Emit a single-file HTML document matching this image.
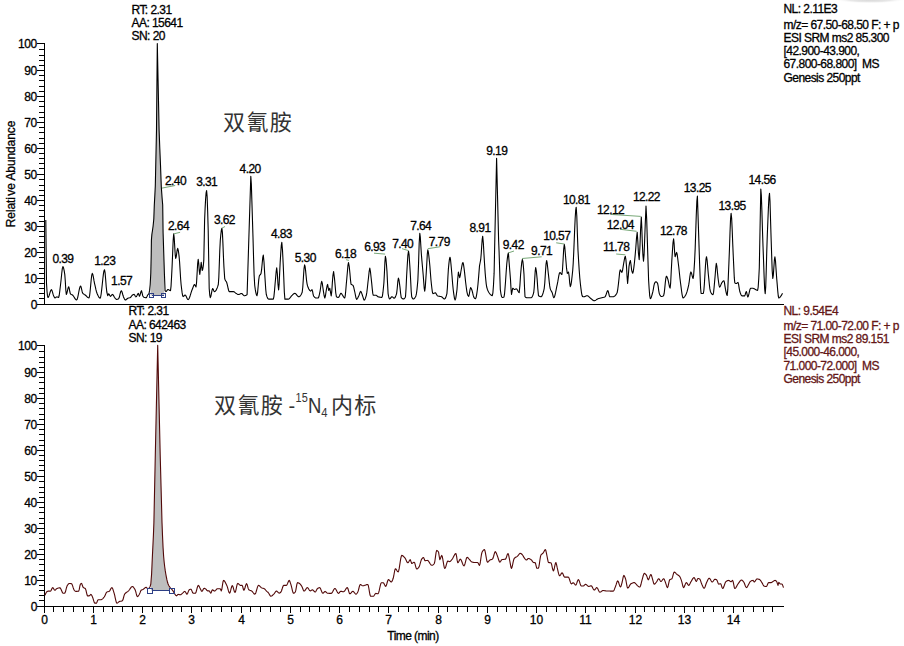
<!DOCTYPE html>
<html><head><meta charset="utf-8"><style>
html,body{margin:0;padding:0;background:#fff;width:904px;height:646px;overflow:hidden}
svg{display:block}
.ax{stroke:#000;stroke-width:1;fill:none;shape-rendering:crispEdges}
.tr{stroke:#000;stroke-width:1.1;fill:none;stroke-linejoin:round}
.tr.red{stroke:#520909}
.bm{stroke:#2d3f85;stroke-width:1;fill:none;shape-rendering:crispEdges}
.gl{stroke:#78a878;stroke-width:1}
text{font-family:"Liberation Sans",Arial,sans-serif;font-size:12px;fill:#000;white-space:pre;stroke:#000;stroke-width:0.3px}
text.red{stroke:#641616}
.cn,.lat{stroke:none}
.yl{text-anchor:end;letter-spacing:-0.3px}
.xl{text-anchor:middle}
.pl{letter-spacing:-0.6px}
.cn{font-family:"Liberation Sans","Noto Sans CJK SC",sans-serif;font-size:22px;fill:#333}
.lat{font-family:"Liberation Sans",sans-serif;fill:#333}
.info{letter-spacing:-0.55px}
text.red{fill:#641616}
</style></head><body>
<svg width="904" height="646" viewBox="0 0 904 646">
<defs><radialGradient id="sh" cx="0.5" cy="0.5" r="0.5"><stop offset="0" stop-color="#d4d4d4"/><stop offset="0.6" stop-color="#e8e8e8"/><stop offset="1" stop-color="#fff" stop-opacity="0"/></radialGradient></defs>
<ellipse cx="870" cy="-0.5" rx="36" ry="4" fill="url(#sh)"/>
<polygon points="150.6,295.5 150.6,276.833 150.8,273 151.2,255 151.4,240 151.9,234.17 152.4,231 153.1,225.97 153.8,219 154.3,205 154.8,195.94 155.3,186 156.5,130 157.3,43.5 159.1,130 159.8,148.58 160.5,165 161.3,187 162.1,198 162.7,205 163.1,233 164,261 164.2,267.2 164.2,295.5" fill="#bebebe"/>
<polygon points="151,590.5 151,581.5 151.6,574 152.4,556 152.9,545.71 153.4,535.44 153.9,522.4 155.3,455 157.7,345.2 160.2,455 162,522.4 162.53,536.03 163.07,547.6 163.6,556 164.15,561.95 164.7,566.75 165.25,570.67 165.8,574 166.38,577.14 166.95,579.93 167.53,582.26 168.1,584 168.62,585.15 169.15,586.08 169.5,586.612 169.5,590.5" fill="#bebebe"/>
<line x1="44.5" y1="43" x2="44.5" y2="304.5" class="ax"/>
<line x1="44" y1="304.5" x2="784" y2="304.5" class="ax"/>
<line x1="37" y1="304.5" x2="44.5" y2="304.5" class="ax"/>
<text x="37" y="309.2" class="yl">0</text>
<line x1="39" y1="298.5" x2="44.5" y2="298.5" class="ax"/>
<line x1="39" y1="293.5" x2="44.5" y2="293.5" class="ax"/>
<line x1="39" y1="288.5" x2="44.5" y2="288.5" class="ax"/>
<line x1="39" y1="283.5" x2="44.5" y2="283.5" class="ax"/>
<line x1="37" y1="278.5" x2="44.5" y2="278.5" class="ax"/>
<text x="37" y="283.2" class="yl">10</text>
<line x1="39" y1="273.5" x2="44.5" y2="273.5" class="ax"/>
<line x1="39" y1="268.5" x2="44.5" y2="268.5" class="ax"/>
<line x1="39" y1="262.5" x2="44.5" y2="262.5" class="ax"/>
<line x1="39" y1="257.5" x2="44.5" y2="257.5" class="ax"/>
<line x1="37" y1="252.5" x2="44.5" y2="252.5" class="ax"/>
<text x="37" y="257.2" class="yl">20</text>
<line x1="39" y1="247.5" x2="44.5" y2="247.5" class="ax"/>
<line x1="39" y1="242.5" x2="44.5" y2="242.5" class="ax"/>
<line x1="39" y1="236.5" x2="44.5" y2="236.5" class="ax"/>
<line x1="39" y1="231.5" x2="44.5" y2="231.5" class="ax"/>
<line x1="37" y1="226.5" x2="44.5" y2="226.5" class="ax"/>
<text x="37" y="231.2" class="yl">30</text>
<line x1="39" y1="221.5" x2="44.5" y2="221.5" class="ax"/>
<line x1="39" y1="216.5" x2="44.5" y2="216.5" class="ax"/>
<line x1="39" y1="210.5" x2="44.5" y2="210.5" class="ax"/>
<line x1="39" y1="205.5" x2="44.5" y2="205.5" class="ax"/>
<line x1="37" y1="200.5" x2="44.5" y2="200.5" class="ax"/>
<text x="37" y="205.2" class="yl">40</text>
<line x1="39" y1="195.5" x2="44.5" y2="195.5" class="ax"/>
<line x1="39" y1="190.5" x2="44.5" y2="190.5" class="ax"/>
<line x1="39" y1="185.5" x2="44.5" y2="185.5" class="ax"/>
<line x1="39" y1="179.5" x2="44.5" y2="179.5" class="ax"/>
<line x1="37" y1="174.5" x2="44.5" y2="174.5" class="ax"/>
<text x="37" y="179.2" class="yl">50</text>
<line x1="39" y1="168.5" x2="44.5" y2="168.5" class="ax"/>
<line x1="39" y1="163.5" x2="44.5" y2="163.5" class="ax"/>
<line x1="39" y1="158.5" x2="44.5" y2="158.5" class="ax"/>
<line x1="39" y1="153.5" x2="44.5" y2="153.5" class="ax"/>
<line x1="37" y1="148.5" x2="44.5" y2="148.5" class="ax"/>
<text x="37" y="153.2" class="yl">60</text>
<line x1="39" y1="143.5" x2="44.5" y2="143.5" class="ax"/>
<line x1="39" y1="138.5" x2="44.5" y2="138.5" class="ax"/>
<line x1="39" y1="132.5" x2="44.5" y2="132.5" class="ax"/>
<line x1="39" y1="127.5" x2="44.5" y2="127.5" class="ax"/>
<line x1="37" y1="122.5" x2="44.5" y2="122.5" class="ax"/>
<text x="37" y="127.2" class="yl">70</text>
<line x1="39" y1="117.5" x2="44.5" y2="117.5" class="ax"/>
<line x1="39" y1="112.5" x2="44.5" y2="112.5" class="ax"/>
<line x1="39" y1="106.5" x2="44.5" y2="106.5" class="ax"/>
<line x1="39" y1="101.5" x2="44.5" y2="101.5" class="ax"/>
<line x1="37" y1="96.5" x2="44.5" y2="96.5" class="ax"/>
<text x="37" y="101.2" class="yl">80</text>
<line x1="39" y1="91.5" x2="44.5" y2="91.5" class="ax"/>
<line x1="39" y1="86.5" x2="44.5" y2="86.5" class="ax"/>
<line x1="39" y1="80.5" x2="44.5" y2="80.5" class="ax"/>
<line x1="39" y1="75.5" x2="44.5" y2="75.5" class="ax"/>
<line x1="37" y1="70.5" x2="44.5" y2="70.5" class="ax"/>
<text x="37" y="75.2" class="yl">90</text>
<line x1="39" y1="65.5" x2="44.5" y2="65.5" class="ax"/>
<line x1="39" y1="60.5" x2="44.5" y2="60.5" class="ax"/>
<line x1="39" y1="55.5" x2="44.5" y2="55.5" class="ax"/>
<line x1="39" y1="49.5" x2="44.5" y2="49.5" class="ax"/>
<line x1="37" y1="43.5" x2="44.5" y2="43.5" class="ax"/>
<text x="37" y="48.2" class="yl">100</text>
<line x1="44.5" y1="345" x2="44.5" y2="606.5" class="ax"/>
<line x1="44" y1="606.5" x2="784" y2="606.5" class="ax"/>
<line x1="37" y1="606.5" x2="44.5" y2="606.5" class="ax"/>
<text x="37" y="611.2" class="yl">0</text>
<line x1="39" y1="600.5" x2="44.5" y2="600.5" class="ax"/>
<line x1="39" y1="595.5" x2="44.5" y2="595.5" class="ax"/>
<line x1="39" y1="590.5" x2="44.5" y2="590.5" class="ax"/>
<line x1="39" y1="585.5" x2="44.5" y2="585.5" class="ax"/>
<line x1="37" y1="580.5" x2="44.5" y2="580.5" class="ax"/>
<text x="37" y="585.2" class="yl">10</text>
<line x1="39" y1="575.5" x2="44.5" y2="575.5" class="ax"/>
<line x1="39" y1="570.5" x2="44.5" y2="570.5" class="ax"/>
<line x1="39" y1="564.5" x2="44.5" y2="564.5" class="ax"/>
<line x1="39" y1="559.5" x2="44.5" y2="559.5" class="ax"/>
<line x1="37" y1="554.5" x2="44.5" y2="554.5" class="ax"/>
<text x="37" y="559.2" class="yl">20</text>
<line x1="39" y1="549.5" x2="44.5" y2="549.5" class="ax"/>
<line x1="39" y1="544.5" x2="44.5" y2="544.5" class="ax"/>
<line x1="39" y1="538.5" x2="44.5" y2="538.5" class="ax"/>
<line x1="39" y1="533.5" x2="44.5" y2="533.5" class="ax"/>
<line x1="37" y1="528.5" x2="44.5" y2="528.5" class="ax"/>
<text x="37" y="533.2" class="yl">30</text>
<line x1="39" y1="523.5" x2="44.5" y2="523.5" class="ax"/>
<line x1="39" y1="518.5" x2="44.5" y2="518.5" class="ax"/>
<line x1="39" y1="512.5" x2="44.5" y2="512.5" class="ax"/>
<line x1="39" y1="507.5" x2="44.5" y2="507.5" class="ax"/>
<line x1="37" y1="502.5" x2="44.5" y2="502.5" class="ax"/>
<text x="37" y="507.2" class="yl">40</text>
<line x1="39" y1="497.5" x2="44.5" y2="497.5" class="ax"/>
<line x1="39" y1="492.5" x2="44.5" y2="492.5" class="ax"/>
<line x1="39" y1="487.5" x2="44.5" y2="487.5" class="ax"/>
<line x1="39" y1="481.5" x2="44.5" y2="481.5" class="ax"/>
<line x1="37" y1="476.5" x2="44.5" y2="476.5" class="ax"/>
<text x="37" y="481.2" class="yl">50</text>
<line x1="39" y1="470.5" x2="44.5" y2="470.5" class="ax"/>
<line x1="39" y1="465.5" x2="44.5" y2="465.5" class="ax"/>
<line x1="39" y1="460.5" x2="44.5" y2="460.5" class="ax"/>
<line x1="39" y1="455.5" x2="44.5" y2="455.5" class="ax"/>
<line x1="37" y1="450.5" x2="44.5" y2="450.5" class="ax"/>
<text x="37" y="455.2" class="yl">60</text>
<line x1="39" y1="445.5" x2="44.5" y2="445.5" class="ax"/>
<line x1="39" y1="440.5" x2="44.5" y2="440.5" class="ax"/>
<line x1="39" y1="434.5" x2="44.5" y2="434.5" class="ax"/>
<line x1="39" y1="429.5" x2="44.5" y2="429.5" class="ax"/>
<line x1="37" y1="424.5" x2="44.5" y2="424.5" class="ax"/>
<text x="37" y="429.2" class="yl">70</text>
<line x1="39" y1="419.5" x2="44.5" y2="419.5" class="ax"/>
<line x1="39" y1="414.5" x2="44.5" y2="414.5" class="ax"/>
<line x1="39" y1="408.5" x2="44.5" y2="408.5" class="ax"/>
<line x1="39" y1="403.5" x2="44.5" y2="403.5" class="ax"/>
<line x1="37" y1="398.5" x2="44.5" y2="398.5" class="ax"/>
<text x="37" y="403.2" class="yl">80</text>
<line x1="39" y1="393.5" x2="44.5" y2="393.5" class="ax"/>
<line x1="39" y1="388.5" x2="44.5" y2="388.5" class="ax"/>
<line x1="39" y1="382.5" x2="44.5" y2="382.5" class="ax"/>
<line x1="39" y1="377.5" x2="44.5" y2="377.5" class="ax"/>
<line x1="37" y1="372.5" x2="44.5" y2="372.5" class="ax"/>
<text x="37" y="377.2" class="yl">90</text>
<line x1="39" y1="367.5" x2="44.5" y2="367.5" class="ax"/>
<line x1="39" y1="362.5" x2="44.5" y2="362.5" class="ax"/>
<line x1="39" y1="357.5" x2="44.5" y2="357.5" class="ax"/>
<line x1="39" y1="351.5" x2="44.5" y2="351.5" class="ax"/>
<line x1="37" y1="345.5" x2="44.5" y2="345.5" class="ax"/>
<text x="37" y="350.2" class="yl">100</text>
<line x1="44.5" y1="606" x2="44.5" y2="612.5" class="ax"/>
<text x="44.5" y="623.5" class="xl">0</text>
<line x1="53.5" y1="606" x2="53.5" y2="611.5" class="ax"/>
<line x1="63.5" y1="606" x2="63.5" y2="611.5" class="ax"/>
<line x1="73.5" y1="606" x2="73.5" y2="611.5" class="ax"/>
<line x1="83.5" y1="606" x2="83.5" y2="611.5" class="ax"/>
<line x1="93.5" y1="606" x2="93.5" y2="612.5" class="ax"/>
<text x="93.5" y="623.5" class="xl">1</text>
<line x1="103.5" y1="606" x2="103.5" y2="611.5" class="ax"/>
<line x1="112.5" y1="606" x2="112.5" y2="611.5" class="ax"/>
<line x1="122.5" y1="606" x2="122.5" y2="611.5" class="ax"/>
<line x1="132.5" y1="606" x2="132.5" y2="611.5" class="ax"/>
<line x1="142.5" y1="606" x2="142.5" y2="612.5" class="ax"/>
<text x="142.5" y="623.5" class="xl">2</text>
<line x1="152.5" y1="606" x2="152.5" y2="611.5" class="ax"/>
<line x1="162.5" y1="606" x2="162.5" y2="611.5" class="ax"/>
<line x1="172.5" y1="606" x2="172.5" y2="611.5" class="ax"/>
<line x1="181.5" y1="606" x2="181.5" y2="611.5" class="ax"/>
<line x1="191.5" y1="606" x2="191.5" y2="612.5" class="ax"/>
<text x="191.5" y="623.5" class="xl">3</text>
<line x1="201.5" y1="606" x2="201.5" y2="611.5" class="ax"/>
<line x1="211.5" y1="606" x2="211.5" y2="611.5" class="ax"/>
<line x1="221.5" y1="606" x2="221.5" y2="611.5" class="ax"/>
<line x1="231.5" y1="606" x2="231.5" y2="611.5" class="ax"/>
<line x1="241.5" y1="606" x2="241.5" y2="612.5" class="ax"/>
<text x="241.5" y="623.5" class="xl">4</text>
<line x1="250.5" y1="606" x2="250.5" y2="611.5" class="ax"/>
<line x1="260.5" y1="606" x2="260.5" y2="611.5" class="ax"/>
<line x1="270.5" y1="606" x2="270.5" y2="611.5" class="ax"/>
<line x1="280.5" y1="606" x2="280.5" y2="611.5" class="ax"/>
<line x1="290.5" y1="606" x2="290.5" y2="612.5" class="ax"/>
<text x="290.5" y="623.5" class="xl">5</text>
<line x1="300.5" y1="606" x2="300.5" y2="611.5" class="ax"/>
<line x1="309.5" y1="606" x2="309.5" y2="611.5" class="ax"/>
<line x1="319.5" y1="606" x2="319.5" y2="611.5" class="ax"/>
<line x1="329.5" y1="606" x2="329.5" y2="611.5" class="ax"/>
<line x1="339.5" y1="606" x2="339.5" y2="612.5" class="ax"/>
<text x="339.5" y="623.5" class="xl">6</text>
<line x1="349.5" y1="606" x2="349.5" y2="611.5" class="ax"/>
<line x1="359.5" y1="606" x2="359.5" y2="611.5" class="ax"/>
<line x1="369.5" y1="606" x2="369.5" y2="611.5" class="ax"/>
<line x1="378.5" y1="606" x2="378.5" y2="611.5" class="ax"/>
<line x1="388.5" y1="606" x2="388.5" y2="612.5" class="ax"/>
<text x="388.5" y="623.5" class="xl">7</text>
<line x1="398.5" y1="606" x2="398.5" y2="611.5" class="ax"/>
<line x1="408.5" y1="606" x2="408.5" y2="611.5" class="ax"/>
<line x1="418.5" y1="606" x2="418.5" y2="611.5" class="ax"/>
<line x1="428.5" y1="606" x2="428.5" y2="611.5" class="ax"/>
<line x1="438.5" y1="606" x2="438.5" y2="612.5" class="ax"/>
<text x="438.5" y="623.5" class="xl">8</text>
<line x1="447.5" y1="606" x2="447.5" y2="611.5" class="ax"/>
<line x1="457.5" y1="606" x2="457.5" y2="611.5" class="ax"/>
<line x1="467.5" y1="606" x2="467.5" y2="611.5" class="ax"/>
<line x1="477.5" y1="606" x2="477.5" y2="611.5" class="ax"/>
<line x1="487.5" y1="606" x2="487.5" y2="612.5" class="ax"/>
<text x="487.5" y="623.5" class="xl">9</text>
<line x1="497.5" y1="606" x2="497.5" y2="611.5" class="ax"/>
<line x1="506.5" y1="606" x2="506.5" y2="611.5" class="ax"/>
<line x1="516.5" y1="606" x2="516.5" y2="611.5" class="ax"/>
<line x1="526.5" y1="606" x2="526.5" y2="611.5" class="ax"/>
<line x1="536.5" y1="606" x2="536.5" y2="612.5" class="ax"/>
<text x="536.5" y="623.5" class="xl">10</text>
<line x1="546.5" y1="606" x2="546.5" y2="611.5" class="ax"/>
<line x1="556.5" y1="606" x2="556.5" y2="611.5" class="ax"/>
<line x1="566.5" y1="606" x2="566.5" y2="611.5" class="ax"/>
<line x1="575.5" y1="606" x2="575.5" y2="611.5" class="ax"/>
<line x1="585.5" y1="606" x2="585.5" y2="612.5" class="ax"/>
<text x="585.5" y="623.5" class="xl">11</text>
<line x1="595.5" y1="606" x2="595.5" y2="611.5" class="ax"/>
<line x1="605.5" y1="606" x2="605.5" y2="611.5" class="ax"/>
<line x1="615.5" y1="606" x2="615.5" y2="611.5" class="ax"/>
<line x1="625.5" y1="606" x2="625.5" y2="611.5" class="ax"/>
<line x1="635.5" y1="606" x2="635.5" y2="612.5" class="ax"/>
<text x="635.5" y="623.5" class="xl">12</text>
<line x1="644.5" y1="606" x2="644.5" y2="611.5" class="ax"/>
<line x1="654.5" y1="606" x2="654.5" y2="611.5" class="ax"/>
<line x1="664.5" y1="606" x2="664.5" y2="611.5" class="ax"/>
<line x1="674.5" y1="606" x2="674.5" y2="611.5" class="ax"/>
<line x1="684.5" y1="606" x2="684.5" y2="612.5" class="ax"/>
<text x="684.5" y="623.5" class="xl">13</text>
<line x1="694.5" y1="606" x2="694.5" y2="611.5" class="ax"/>
<line x1="703.5" y1="606" x2="703.5" y2="611.5" class="ax"/>
<line x1="713.5" y1="606" x2="713.5" y2="611.5" class="ax"/>
<line x1="723.5" y1="606" x2="723.5" y2="611.5" class="ax"/>
<line x1="733.5" y1="606" x2="733.5" y2="612.5" class="ax"/>
<text x="733.5" y="623.5" class="xl">14</text>
<line x1="743.5" y1="606" x2="743.5" y2="611.5" class="ax"/>
<line x1="753.5" y1="606" x2="753.5" y2="611.5" class="ax"/>
<line x1="763.5" y1="606" x2="763.5" y2="611.5" class="ax"/>
<line x1="772.5" y1="606" x2="772.5" y2="611.5" class="ax"/>
<polyline points="45.8,220 46.5,283.3 47,291.21 47.5,295.93 48,297.5 48.57,296.92 49.13,295.48 49.7,293.6 50.27,291.72 50.83,290.28 51.4,289.7 51.95,290.43 52.5,292.14 53.05,294.13 53.6,295.7 54.25,297.13 54.9,297.9 55.5,297.64 56.1,297.16 56.7,296.9 57.33,297.06 57.97,297.34 58.6,297.5 59.23,295.25 59.87,290.23 60.5,285 61.1,279.74 61.7,273.68 62.3,268.68 62.9,266.6 63.53,267.76 64.17,270.69 64.8,274.6 65.3,281.18 65.8,289.99 66.3,294.4 66.9,293.21 67.5,290.6 68.1,287.99 68.7,286.8 69.27,288.48 69.83,291.73 70.4,293.8 70.93,294.22 71.45,294.47 71.97,294.69 72.5,295 73.01,295.51 73.53,296.21 74.04,297.03 74.55,297.88 75.06,298.69 75.57,299.36 76.09,299.83 76.6,300 77.1,299.4 77.6,297.81 78.1,295.57 78.6,293 79.1,290.43 79.6,288.19 80.1,286.6 80.6,286 81.12,287.01 81.65,289.28 82.17,291.72 82.7,293.2 83.2,293.72 83.7,294.09 84.2,294.39 84.7,294.67 85.2,295 85.74,295.46 86.29,295.98 86.83,296.53 87.37,297.05 87.91,297.49 88.46,297.79 89,297.9 89.55,296.09 90.1,291.55 90.65,285.65 91.2,279.75 91.75,275.21 92.3,273.4 92.85,274.51 93.4,277.19 93.95,280.45 94.5,283.3 95,285.49 95.5,287.74 96,289.89 96.5,291.76 97,293.2 97.52,294.41 98.03,295.57 98.55,296.6 99.07,297.44 99.58,298 100.1,298.2 100.65,296.98 101.2,293.75 101.75,289.18 102.3,283.95 102.85,278.72 103.4,274.15 103.95,270.92 104.5,269.7 105.08,272.6 105.65,279.28 106.22,286.75 106.8,292 107.7,295.7 108.2,294.75 108.7,293.8 109.3,294.45 109.9,295.65 110.5,296.3 111.13,295.81 111.77,294.89 112.4,294.4 112.9,294.68 113.4,295.38 113.9,296.3 114.4,297.21 114.9,297.9 115.5,298.56 116.1,299.15 116.7,299.4 117.33,299.32 117.97,299.11 118.6,298.8 119.14,297.77 119.68,295.74 120.22,293.41 120.76,291.5 121.3,290.7 121.85,291.46 122.4,293.24 122.95,295.3 123.5,296.9 124.13,298.28 124.77,299.49 125.4,300 125.9,299.85 126.4,299.46 126.9,298.98 127.4,298.52 127.9,298.2 128.4,298.04 128.9,297.92 129.4,297.82 129.9,297.69 130.4,297.5 130.93,297.03 131.45,296.28 131.97,295.51 132.5,295 133.03,294.71 133.57,294.49 134.1,294.4 134.7,295.05 135.3,296.25 135.9,296.9 136.4,296.54 136.9,295.67 137.4,294.63 137.9,293.76 138.4,293.4 138.9,294.85 139.4,296.3 139.93,295.43 140.45,293.5 140.97,291.57 141.5,290.7 142.1,292.86 142.7,295.7 143.5,297 144.06,297.25 144.62,297.45 145.18,297.59 145.74,297.67 146.3,297.7 147,296.54 147.7,294.9 148.35,294.28 149,293.5 149.6,290.41 150.2,284.5 150.8,273 151.2,255 151.4,240 151.9,234.17 152.4,231 153.1,225.97 153.8,219 154.3,205 154.8,195.94 155.3,186 156.5,130 157.3,43.5 159.1,130 159.8,148.58 160.5,165 161.3,187 162.1,198 162.7,205 163.1,233 164,261 164.4,273.4 165.1,290.7 166,291.6 166.5,291.27 167,290.55 167.5,289.83 168,289.5 168.5,289.61 169,289.89 169.5,290.21 170,290.49 170.5,290.6 171.03,286.38 171.57,276.78 172.1,266.4 172.63,253.86 173.17,240.27 173.7,233.9 174.2,237.73 174.7,246.15 175.2,254.57 175.7,258.4 176.2,256.82 176.7,253.35 177.2,249.88 177.7,248.3 178.4,250.95 179.1,256.4 179.6,262.25 180.1,270.34 180.6,278.48 181.1,284.5 181.6,288.77 182.1,292.66 182.6,295.5 183.1,296.6 183.6,296.35 184.1,295.8 184.6,295.25 185.1,295 185.6,295.34 186.1,296.19 186.6,297.3 187.1,298.41 187.6,299.26 188.1,299.6 188.61,299.29 189.12,298.45 189.64,297.21 190.15,295.7 190.66,294.04 191.17,292.37 191.69,290.81 192.2,289.5 192.8,287.96 193.4,286.33 194,285.03 194.6,284.5 195.3,285.75 196,287 196.55,282.69 197.1,273.2 197.65,263.71 198.2,259.4 198.73,263.31 199.27,270.59 199.8,274.5 200.5,268.45 201.2,262.4 201.7,266.45 202.2,270.5 202.73,269.34 203.27,265.93 203.8,260.4 204.6,220.2 205.1,208.57 205.6,199.14 206.1,192.81 206.6,190.5 207.13,196.56 207.67,211.46 208.2,230.3 209.2,288.5 209.75,295.07 210.3,297.6 210.9,296.18 211.5,293.05 212.1,289.92 212.7,288.5 213.23,289.3 213.77,290.8 214.3,291.6 214.8,291.49 215.3,291.17 215.8,290.63 216.3,289.86 216.8,288.87 217.3,287.65 217.8,286.19 218.3,284.5 218.8,277.61 219.3,264.26 219.8,249.98 220.3,240.3 220.83,234.54 221.37,230.03 221.9,228.2 222.4,232.61 222.9,243.15 223.4,255.76 223.9,266.4 224.7,278.5 225.2,280 225.7,280.86 226.2,281.54 226.7,282.5 227.22,284.28 227.74,286.65 228.26,289.02 228.78,290.86 229.3,291.6 229.81,291.6 230.33,291.6 230.84,291.6 231.35,291.6 231.86,291.6 232.38,291.6 232.89,291.6 233.4,291.6 233.9,291.71 234.4,292 234.9,292.41 235.4,292.85 235.9,293.27 236.4,293.6 236.93,293.89 237.45,294.19 237.97,294.41 238.5,294.5 239,294.43 239.5,294.24 240,294 240.5,293.76 241,293.57 241.5,293.5 242.06,293.73 242.62,294.27 243.18,294.93 243.74,295.47 244.3,295.7 244.86,295.66 245.42,295.54 245.98,295.31 246.54,294.97 247.1,294.5 248.4,252.8 250.8,176.2 251.33,183.78 251.87,200.65 252.4,218 252.97,236.54 253.55,257.23 254.12,275.11 254.7,285.2 255.27,289.39 255.85,292.72 256.43,294.91 257,295.7 257.57,292.87 258.15,286.52 258.73,279.84 259.3,276 259.87,275.08 260.43,274.51 261,273.6 261.57,269.96 262.15,263.68 262.73,257.74 263.3,255.1 264,262.05 264.7,273.6 265.23,281.7 265.77,289.78 266.3,294.5 266.88,296.39 267.45,297.84 268.03,298.77 268.6,299.1 269.12,299.1 269.64,299.1 270.17,299.1 270.69,299.1 271.21,299.1 271.73,299.1 272.26,299.1 272.78,299.1 273.3,299.1 273.88,296.85 274.45,291.38 275.03,284.56 275.6,278.3 276.15,271.77 276.7,267.8 277.33,273.53 277.97,284.17 278.6,289.9 279.13,284.38 279.67,272.65 280.2,262 280.73,253.47 281.27,245.7 281.8,242.3 282.5,250.2 283.2,264.3 283.77,277.78 284.33,292.31 284.9,299.1 285.47,299.1 286.03,299.1 286.6,299.1 287.17,299.1 287.73,299.1 288.3,299.1 288.8,298.97 289.3,298.6 289.8,298.08 290.3,297.47 290.8,296.82 291.3,296.21 291.8,295.7 292.3,295.22 292.8,294.69 293.3,294.17 293.8,293.73 294.3,293.42 294.8,293.3 295.3,293.45 295.8,293.85 296.3,294.41 296.8,295.05 297.3,295.69 297.8,296.25 298.3,296.65 298.8,296.8 299.37,296.66 299.93,296.25 300.5,295.58 301.07,294.67 301.63,293.54 302.2,292.2 302.8,287.06 303.4,277.74 304,268.8 304.6,264.8 305.1,266.49 305.6,270.66 306.1,275.9 306.6,280.84 307.1,284.1 307.62,285.99 308.15,287.56 308.68,288.79 309.2,289.7 309.9,290.65 310.6,291.1 311.3,290.4 312,289.7 312.53,291.17 313.07,294.04 313.6,296 314.1,296.66 314.6,297.21 315.1,297.63 315.6,297.9 316.1,298 316.62,298 317.15,298 317.68,298 318.2,298 318.83,296.86 319.47,294.18 320.1,291.1 320.63,287.47 321.17,283.3 321.7,281.3 322.27,283.17 322.83,287.22 323.4,291.1 324.1,295.48 324.8,298 325.4,296.08 326,292 326.6,288.3 327.1,285.79 327.6,284.4 328.15,287.4 328.7,290.4 329.25,289.35 329.8,288.3 330.5,292.15 331.2,296 331.77,291.68 332.33,282.85 332.9,275.7 333.6,271.6 334.5,278.5 335.13,285.49 335.77,292.97 336.4,296.7 336.9,297 337.4,297.22 337.9,297.35 338.4,297.4 338.92,296.96 339.44,295.92 339.96,294.68 340.48,293.64 341,293.2 341.53,293.59 342.07,294.45 342.6,295.3 343.12,296.11 343.65,296.99 344.18,297.71 344.7,298 345.23,295.87 345.75,290.7 346.27,284.31 346.8,278.5 347.37,272 347.93,265.47 348.5,262.5 349.2,266.24 349.9,273 350.45,279.55 351,284.1 351.52,284.61 352.05,284.86 352.58,285.07 353.1,285.5 353.7,287.09 354.3,289.78 354.9,292.5 355.47,295.29 356.03,298.11 356.6,299.4 357.12,299.06 357.65,298.2 358.18,297.09 358.7,296 359.2,294.75 359.7,293.22 360.2,291.94 360.7,291.4 361.27,292.1 361.83,293.67 362.4,295.3 363,297.2 363.6,299.18 364.2,300.1 364.73,299.7 365.25,298.63 365.77,297.1 366.3,295.3 366.82,292.38 367.35,287.98 367.88,283.04 368.4,278.5 369.1,271.96 369.8,268.1 370.5,271.96 371.2,278.5 371.73,283.39 372.25,288.92 372.77,293.43 373.3,295.3 373.86,295.3 374.42,295.3 374.98,295.3 375.54,295.3 376.1,295.3 376.73,295.62 377.37,296.25 378,296.7 378.56,296.87 379.11,297.02 379.67,297.14 380.23,297.25 380.79,297.33 381.34,297.38 381.9,297.4 382.4,296.09 382.9,292.69 383.4,287.97 383.9,282.7 384.4,273.53 384.9,262.04 385.4,256.4 385.93,258.85 386.47,264.74 387,271.9 387.55,283.71 388.1,293.6 388.6,296.4 389.1,298.3 389.6,299 390.18,298.64 390.75,297.85 391.32,297.06 391.9,296.7 392.47,296.93 393.05,297.45 393.62,297.97 394.2,298.2 394.8,297.85 395.4,296.87 396,295.41 396.6,293.6 397.2,288.72 397.8,281.69 398.4,278.1 398.93,279.69 399.47,283.35 400,287.4 400.6,293.22 401.2,297.4 401.77,298.11 402.35,298.61 402.93,298.9 403.5,299 404,298.86 404.5,298.44 405,297.72 405.5,296.7 406.05,288.44 406.6,276.5 407.23,265.46 407.87,255.4 408.5,251 409.07,254.64 409.63,262.92 410.2,271.9 410.7,281.18 411.2,291.25 411.7,296.7 412.23,297.93 412.77,298.72 413.3,299 413.82,298.86 414.34,298.45 414.86,297.8 415.38,296.94 415.9,295.9 416.4,293.9 416.9,290.28 417.4,285.4 417.9,279.6 418.53,264.12 419.17,243.5 419.8,233.2 420.3,237.04 420.8,245.34 421.3,253.3 421.93,260.85 422.57,267.99 423.2,275 423.7,281.66 424.2,288.23 424.7,291.2 425.23,287.77 425.77,280.04 426.3,271.9 426.8,263.25 427.3,254.13 427.8,249.9 428.33,251.78 428.87,256.15 429.4,261.1 429.9,266.41 430.4,272.87 430.9,279.25 431.4,284.3 431.9,288.48 432.4,292.07 432.9,293.6 433.5,293.48 434.1,293.2 434.7,292.93 435.3,292.8 435.88,293.24 436.45,294.24 437.03,295.29 437.6,295.9 438.14,296.08 438.69,296.2 439.23,296.29 439.77,296.36 440.31,296.44 440.86,296.55 441.4,296.7 441.92,296.99 442.43,297.45 442.95,297.98 443.47,298.48 443.98,298.85 444.5,299 445.1,298.63 445.7,297.56 446.3,295.86 446.9,293.6 447.4,287.36 447.9,277.01 448.4,268.8 448.93,263.39 449.47,259.01 450,257.2 450.5,259.43 451,264.51 451.5,270 452.07,276.57 452.63,283.78 453.2,289.5 453.83,294.34 454.47,298.33 455.1,300 455.73,298.38 456.37,294.42 457,289.5 457.7,279.43 458.4,272.1 459.05,274.9 459.7,277.7 460.3,275.33 460.9,271.5 461.4,268.73 461.9,265.79 462.4,263.45 462.9,262.5 463.4,263.9 463.9,267.16 464.4,270.9 465,276.34 465.6,282 466.23,287.05 466.87,291.59 467.5,294.4 468.1,295.72 468.7,296.3 469.33,294.04 469.97,289.86 470.6,287.6 471.1,288.11 471.6,289.3 472.1,290.7 472.63,292.75 473.17,295.21 473.7,296.9 474.3,297.84 474.9,298.53 475.5,298.8 476.13,297.35 476.77,293.83 477.4,289.5 478,283.98 478.6,277.1 479.5,265.9 480.1,262.73 480.7,259.7 481.2,254.07 481.7,246.21 482.2,239.22 482.7,236.2 483.35,243.08 484,254.8 484.6,264.6 485.2,273.4 485.7,279.03 486.2,283.83 486.7,287 487.33,289.22 487.97,290.79 488.6,292 489.2,292.97 489.8,293.77 490.4,294.4 491.03,294.99 491.67,295.49 492.3,295.7 492.9,292.79 493.5,284.92 494.1,273.4 494.8,240 496.6,158.3 498.6,240 499.1,252.3 500.3,289.5 500.93,293.79 501.57,296.53 502.2,297.5 502.8,297.43 503.4,297.23 504,296.9 504.5,294.2 505,288.4 505.5,282 506.15,272.33 506.8,263.5 507.33,258.58 507.87,254.56 508.4,252.9 509.2,263.5 509.85,271.44 510.5,279.6 511,288.69 511.5,294.4 512.1,291.3 512.7,288.2 513.33,288.54 513.97,289.16 514.6,289.5 515.2,289.34 515.8,289.06 516.4,288.9 516.96,289.28 517.52,290.2 518.08,291.3 518.64,292.22 519.2,292.6 519.9,285.34 520.6,274.5 521.2,267.88 521.8,262.03 522.4,259.5 522.93,261.78 523.47,267.39 524,274.5 524.5,287.17 525,296.7 525.52,297.17 526.05,297.48 526.58,297.65 527.1,297.7 527.6,297.7 528.1,297.7 528.6,297.7 529.1,297.7 529.6,297.7 530.1,297.7 530.6,297.7 531.1,297.7 531.62,297.47 532.14,296.8 532.66,295.75 533.18,294.37 533.7,292.7 534.2,287.79 534.7,279.24 535.2,271.11 535.7,267.5 536.4,271.37 537.1,278.6 537.8,288.69 538.5,295.7 539.02,296.08 539.54,296.36 540.06,296.55 540.58,296.66 541.1,296.7 541.62,296.42 542.13,295.61 542.65,294.35 543.17,292.72 543.68,290.78 544.2,288.6 544.8,282.73 545.4,273.23 546,264.4 546.6,260.5 547.13,262.69 547.67,267.55 548.2,272.5 548.7,276.89 549.2,281.67 549.7,285.89 550.2,288.6 550.7,289.93 551.2,290.84 551.7,291.66 552.2,292.7 552.73,294.59 553.27,296.7 553.8,297.7 554.37,297.06 554.93,295.35 555.5,292.92 556.07,290.09 556.63,287.21 557.2,284.6 557.74,281.91 558.28,278.73 558.82,275.68 559.36,273.4 559.9,272.5 560.4,272.81 560.9,273.5 561.4,274.19 561.9,274.5 562.5,269.8 563.1,259.45 563.7,249.1 564.3,244.4 564.83,247.43 565.37,254.04 565.9,260.5 566.6,268.69 567.3,273.5 567.9,272.75 568.5,272 569.1,275.79 569.7,282.81 570.3,286.6 570.9,285.15 571.5,281.4 572.1,276.23 572.7,270.5 573.2,263.5 573.7,253.1 574.2,240.93 574.7,228.62 575.2,217.81 575.7,210.12 576.2,207.2 576.8,216.01 577.4,234.42 578,250.4 578.6,260.76 579.2,270.09 579.8,277.97 580.4,284 580.92,288.37 581.45,292.36 581.98,295.29 582.5,296.5 583,296.61 583.5,296.68 584,296.7 584.5,296.63 585,296.44 585.5,296.2 586,295.96 586.5,295.77 587,295.7 587.51,295.79 588.02,296.03 588.54,296.4 589.05,296.84 589.56,297.33 590.08,297.83 590.59,298.3 591.1,298.7 591.6,299.09 592.1,299.53 592.6,299.96 593.1,300.34 593.6,300.6 594.1,300.7 594.6,300.63 595.1,300.45 595.6,300.18 596.1,299.87 596.6,299.53 597.1,299.2 597.6,298.91 598.1,298.7 598.6,298.55 599.1,298.41 599.6,298.29 600.1,298.18 600.6,298.07 601.1,297.96 601.6,297.83 602.1,297.7 602.6,297.57 603.1,297.44 603.6,297.31 604.1,297.16 604.6,296.96 605.1,296.7 605.64,295.86 606.18,294.32 606.72,292.59 607.26,291.18 607.8,290.6 608.3,291.55 608.8,293.65 609.3,295.75 609.8,296.7 610.37,296.7 610.93,296.7 611.5,296.7 612.07,296.7 612.63,296.7 613.2,296.7 613.76,296.62 614.31,296.37 614.87,295.97 615.43,295.41 615.99,294.69 616.54,293.82 617.1,292.8 617.8,289.03 618.5,283.4 619.07,278.04 619.63,272.41 620.2,269.8 620.77,270.47 621.33,271.73 621.9,272.4 622.47,270.79 623.03,267.3 623.6,263.9 624.17,260.71 624.73,257.6 625.3,256.2 625.9,259.65 626.5,266.4 627.05,276.41 627.6,283.4 628.3,275.99 629,266.4 629.7,262.36 630.4,260.5 631,264.49 631.6,269.8 632.15,272.1 632.7,273.2 633.27,271.54 633.83,267.61 634.4,263 635.1,255.89 635.8,247.7 636.5,238.14 637.2,232.4 637.8,240.94 638.4,252.8 639.2,259.6 639.9,247.6 640.6,229 641.3,217.1 641.8,227.41 642.3,242.6 642.9,254.87 643.5,261.3 644.07,254.91 644.63,240.59 645.2,225.6 646,206.1 646.7,219.37 647.4,242.6 648.6,280 649.17,289.06 649.73,295.96 650.3,298.7 650.8,298.28 651.3,297.17 651.8,295.59 652.3,293.76 652.8,291.9 653.37,289.03 653.93,285.63 654.5,283.4 655.2,282.21 655.9,281.7 656.47,281.92 657.03,282.53 657.6,283.4 658.17,286.18 658.73,290.57 659.3,293.6 659.8,294.72 660.3,295.64 660.8,296.27 661.3,296.5 661.88,296.44 662.45,296.29 663.02,296.03 663.6,295.7 664.16,293.44 664.72,288.58 665.28,282.89 665.84,278.17 666.4,276.2 666.9,276.73 667.4,277.97 667.9,279.4 668.45,281.6 669,284.5 669.55,287.02 670.1,288.1 670.67,282.82 671.23,271.52 671.8,261 672.4,251.57 673,242.78 673.6,238.9 674.1,243.51 674.6,252.09 675.1,256.7 675.6,255.59 676.1,253.51 676.6,252.4 677.17,254.27 677.73,258.55 678.3,263.2 678.85,267.79 679.4,273.02 679.95,278.22 680.5,282.7 681.02,286.64 681.54,290.7 682.06,294.32 682.58,296.91 683.1,297.9 683.66,297.71 684.22,297.21 684.78,296.47 685.34,295.57 685.9,294.6 686.46,293.36 687.02,291.66 687.58,289.62 688.14,287.33 688.7,284.9 689.25,281.5 689.8,277.19 690.35,273.48 690.9,271.9 691.45,272.92 692,275.15 692.55,277.38 693.1,278.4 693.6,275.55 694.1,268.84 694.6,261 695.16,248.88 695.72,232.09 696.28,214.86 696.84,201.42 697.4,196 699.6,263.2 700.1,276.39 700.6,288.31 701.1,293.5 701.65,293.5 702.2,293.5 702.75,293.5 703.3,293.5 703.83,290.77 704.37,283.96 704.9,275.1 705.43,266.24 705.97,259.43 706.5,256.7 707.1,260 707.7,267.14 708.3,274 708.82,279.13 709.35,284.45 709.88,288.89 710.4,291.4 710.92,292.5 711.44,293.41 711.96,294.1 712.48,294.54 713,294.7 713.55,292.63 714.1,287.55 714.65,281.12 715.2,275 715.75,267.8 716.3,263.3 716.9,266.33 717.5,272.74 718.1,278.5 718.6,282.28 719.1,285.7 719.6,287.2 720.15,286.65 720.7,285.37 721.25,283.9 721.8,282.8 722.32,282.08 722.85,281.4 723.38,280.9 723.9,280.7 724.43,282.45 724.97,286.13 725.5,289.4 726.07,292.04 726.63,294.38 727.2,295.4 727.77,289.66 728.33,276.79 728.9,263.3 729.45,249.15 730,232.7 730.55,219.08 731.1,213.4 731.65,218.29 732.2,230.05 732.75,244.33 733.3,256.8 733.8,267.53 734.3,277.91 734.8,282.8 735.33,283.19 735.87,283.42 736.4,283.5 736.93,283.21 737.47,282.69 738,282.4 738.6,284.37 739.2,288.37 739.8,291.5 740.35,293.09 740.9,294.5 741.45,295.51 742,295.9 742.52,295.9 743.04,295.9 743.56,295.9 744.08,295.9 744.6,295.9 745.17,294.76 745.73,292.64 746.3,291.5 746.8,292.93 747.3,295.57 747.8,297 748.36,296.1 748.92,293.94 749.48,291.36 750.04,289.2 750.6,288.3 751.2,288.3 751.8,288.3 752.4,288.3 753,288.3 753.6,288.42 754.2,288.71 754.8,289.07 755.4,289.4 755.95,289.7 756.5,290.03 757.05,290.29 757.6,290.4 758.17,287.23 758.73,279.01 759.3,267.7 760.8,189.1 761.35,195.56 761.9,211.06 762.45,229.81 763,246 763.55,260.75 764.1,276.34 764.65,288.68 765.2,293.7 765.73,286.77 766.25,270.33 766.77,250.93 767.3,235.1 767.85,221.59 768.4,208.03 768.95,197.58 769.5,193.4 770,201.34 770.5,218.54 771,235.1 771.6,253.25 772.2,270.7 772.8,278.5 773.32,275.11 773.85,267.65 774.38,260.19 774.9,256.8 775.5,261.02 776.1,270.07 776.7,278.5 777.23,284.66 777.75,291.01 778.27,295.99 778.8,298 779.35,297.8 779.9,297.29 780.45,296.62 781,295.9 781.5,295.14 782,294.22 782.5,293.3" class="tr"/>
<polyline points="45,595.3 45.53,594.06 46.07,592.81 46.6,592 47.17,591.55 47.73,591.23 48.3,591.1 48.85,591.1 49.4,591.1 49.95,591.1 50.5,591.1 51.05,590.55 51.6,589.35 52.15,588.15 52.7,587.6 53.25,588.02 53.8,588.95 54.35,589.88 54.9,590.3 55.47,589.94 56.03,589.23 56.6,588.7 57.15,588.46 57.7,588.25 58.25,588.06 58.8,587.92 59.35,587.83 59.9,587.8 60.45,588.21 61,589.23 61.55,590.55 62.1,591.87 62.65,592.89 63.2,593.3 63.77,593.25 64.33,593.11 64.9,592.9 65.45,591.84 66,589.73 66.55,587.45 67.1,585.9 67.65,585.02 68.2,584.25 68.75,583.71 69.3,583.5 69.85,583.51 70.4,583.55 70.95,583.62 71.5,583.7 72.06,584.36 72.62,585.83 73.18,587.63 73.74,589.28 74.3,590.3 74.87,590.83 75.43,591.24 76,591.4 76.54,591.39 77.08,591.35 77.62,591.3 78.16,591.21 78.7,591.1 79.27,589.4 79.83,586.26 80.4,584.2 80.95,583.64 81.5,583.4 82.03,584.29 82.57,586.05 83.1,587.3 83.67,587.73 84.25,587.99 84.83,588.26 85.4,588.7 85.95,590.14 86.5,592.58 87.05,594.88 87.6,595.9 88.13,595.9 88.67,595.9 89.2,595.9 89.77,595.51 90.33,594.79 90.9,594.4 91.43,594.84 91.97,595.86 92.5,597 93.08,598.6 93.65,600.62 94.22,602.36 94.8,603.1 95.33,603.1 95.87,603.1 96.4,603.1 96.97,602.22 97.53,600.58 98.1,599.7 98.64,599.7 99.18,599.7 99.72,599.7 100.26,599.7 100.8,599.7 101.37,599.59 101.93,599.28 102.5,598.83 103.07,598.27 103.63,597.64 104.2,597 104.74,596.13 105.28,594.92 105.82,593.65 106.36,592.58 106.9,592 107.45,591.81 108,591.69 108.55,591.58 109.1,591.4 109.66,590.85 110.22,589.88 110.78,588.82 111.34,587.96 111.9,587.6 112.45,588.16 113,589.55 113.55,591.34 114.1,593.1 114.66,595.19 115.22,597.8 115.78,600.37 116.34,602.32 116.9,603.1 117.44,602.95 117.98,602.58 118.52,602.12 119.06,601.69 119.6,601.4 120.16,601.26 120.72,601.17 121.28,601.09 121.84,600.98 122.4,600.8 122.95,599.78 123.5,597.77 124.05,595.62 124.6,594.2 125.16,593.51 125.71,592.97 126.27,592.54 126.83,592.16 127.39,591.79 127.94,591.38 128.5,590.9 129.06,590.26 129.61,589.48 130.17,588.64 130.73,587.84 131.29,587.15 131.84,586.68 132.4,586.5 132.94,586.69 133.48,587.21 134.02,587.96 134.56,588.85 135.1,589.8 135.68,591.43 136.25,593.7 136.82,595.73 137.4,596.6 137.9,596.37 138.4,595.8 138.9,595.02 139.4,594.2 139.97,592.89 140.53,591.32 141.1,590.3 141.65,589.93 142.2,589.68 142.75,589.46 143.3,589.2 143.86,588.8 144.42,588.3 144.98,587.81 145.54,587.45 146.1,587.3 146.63,587.66 147.17,588.34 147.7,588.7 148.3,588.55 148.9,588.16 149.5,587.6 150.15,586.41 150.8,584 151.6,574 152.4,556 152.9,545.71 153.4,535.44 153.9,522.4 155.3,455 157.7,345.2 160.2,455 162,522.4 162.53,536.03 163.07,547.6 163.6,556 164.15,561.95 164.7,566.75 165.25,570.67 165.8,574 166.38,577.14 166.95,579.93 167.53,582.26 168.1,584 168.62,585.15 169.15,586.08 169.67,586.87 170.2,587.6 170.8,588.33 171.4,588.95 172,589.57 172.6,590.3 173.1,591.09 173.6,592 174.1,592.91 174.6,593.7 175.23,594.66 175.87,595.52 176.5,595.9 177.03,595.51 177.57,594.79 178.1,594.4 178.68,594.46 179.25,594.6 179.82,594.74 180.4,594.8 180.95,594.61 181.5,594.16 182.05,593.6 182.6,593.1 183.15,592.6 183.7,592.04 184.25,591.59 184.8,591.4 185.35,591.84 185.9,592.8 186.45,593.76 187,594.2 187.55,593.57 188.1,592.16 188.65,590.67 189.2,589.8 189.77,589.5 190.33,589.28 190.9,589.2 191.45,589.79 192,591.1 192.55,592.44 193.1,593.1 193.65,593.18 194.2,593.25 194.75,593.29 195.3,593.3 195.8,592.71 196.3,591.25 196.8,589.35 197.3,587.45 197.8,585.99 198.3,585.4 198.8,585.76 199.3,586.63 199.8,587.71 200.3,588.7 200.83,589.8 201.37,590.9 201.9,591.4 202.45,590.92 203,589.85 203.55,588.78 204.1,588.3 204.67,588.41 205.23,588.67 205.8,589 206.37,589.64 206.93,590.48 207.5,590.9 208.03,590.9 208.57,590.9 209.1,590.9 209.67,591.47 210.23,592.53 210.8,593.1 211.33,592.24 211.87,590.66 212.4,589.8 212.95,590 213.5,590.45 214.05,590.9 214.6,591.1 215.16,590.85 215.72,590.26 216.28,589.54 216.84,588.95 217.4,588.7 217.96,588.7 218.52,588.7 219.08,588.7 219.64,588.7 220.2,588.7 220.75,589.8 221.3,590.9 221.85,589.26 222.4,585.65 222.95,582.04 223.5,580.4 224.05,580.62 224.6,581.21 225.15,582.09 225.7,583.14 226.25,584.28 226.8,585.4 227.36,586.91 227.92,588.9 228.48,590.92 229.04,592.48 229.6,593.1 230.14,592.32 230.68,590.46 231.22,588.24 231.76,586.38 232.3,585.6 232.84,586.32 233.38,588.03 233.92,590.07 234.46,591.78 235,592.5 235.54,591.55 236.08,589.3 236.62,586.6 237.16,584.35 237.7,583.4 238.26,583.61 238.82,584.1 239.38,584.7 239.94,585.19 240.5,585.4 241.07,585.4 241.63,585.4 242.2,585.4 242.73,586.67 243.27,589.03 243.8,590.3 244.36,589.61 244.92,587.98 245.48,586.02 246.04,584.39 246.6,583.7 247.15,584.58 247.7,586.55 248.25,588.63 248.8,589.8 249.36,590.12 249.92,590.32 250.48,590.48 251.04,590.65 251.6,590.9 252.15,591.36 252.7,592.03 253.25,592.78 253.8,593.48 254.35,594 254.9,594.2 255.41,593.71 255.93,592.46 256.44,590.74 256.96,588.86 257.47,587.14 257.99,585.89 258.5,585.4 259,585.55 259.5,585.92 260,586.43 260.5,586.97 261,587.46 261.5,587.8 262.06,588.01 262.62,588.16 263.18,588.3 263.74,588.47 264.3,588.7 264.85,589.14 265.4,589.78 265.95,590.49 266.5,591.1 267.07,591.57 267.63,592 268.2,592.5 268.74,593.23 269.28,594.19 269.82,595.16 270.36,595.9 270.9,596.2 271.46,596.07 272.02,595.73 272.58,595.25 273.14,594.72 273.7,594.2 274.26,593.57 274.82,592.76 275.38,591.96 275.94,591.34 276.5,591.1 277.04,591.31 277.58,591.8 278.12,592.4 278.66,592.89 279.2,593.1 279.77,592.94 280.33,592.53 280.9,592 281.46,590.97 282.02,589.29 282.58,587.46 283.14,586 283.7,585.4 284.24,585.4 284.78,585.4 285.32,585.4 285.86,585.4 286.4,585.4 286.96,584.88 287.52,583.64 288.08,582.16 288.64,580.92 289.2,580.4 289.73,581.06 290.27,582.57 290.8,584.2 291.36,586.12 291.92,588.49 292.48,590.82 293.04,592.6 293.6,593.3 294.17,593.12 294.73,592.65 295.3,592 295.85,590.14 296.4,586.95 296.95,583.94 297.5,582.6 298.05,582.7 298.6,582.95 299.15,583.31 299.7,583.7 300.25,584.2 300.8,584.86 301.35,585.65 301.9,586.5 302.45,587.71 303,589.24 303.55,590.54 304.1,591.1 304.65,590.84 305.2,590.19 305.75,589.35 306.3,588.51 306.85,587.86 307.4,587.6 307.96,587.94 308.52,588.76 309.08,589.74 309.64,590.56 310.2,590.9 310.75,590.73 311.3,590.35 311.85,589.97 312.4,589.8 312.96,590.03 313.52,590.57 314.08,591.23 314.64,591.77 315.2,592 315.75,591.56 316.3,590.56 316.85,589.45 317.4,588.7 317.95,588.3 318.5,587.94 319.05,587.69 319.6,587.6 320.15,588.02 320.7,589.08 321.25,590.45 321.8,591.82 322.35,592.88 322.9,593.3 323.45,593 324,592.35 324.55,591.7 325.1,591.4 325.7,591.67 326.3,592.27 326.9,592.88 327.5,593.2 328.03,593.25 328.56,593.3 329.09,593.33 329.61,593.36 330.14,593.38 330.67,593.4 331.2,593.4 331.73,593.13 332.26,592.43 332.79,591.47 333.31,590.43 333.84,589.47 334.37,588.77 334.9,588.5 335.43,588.77 335.96,589.47 336.49,590.43 337.01,591.47 337.54,592.43 338.07,593.13 338.6,593.4 339.23,592.86 339.87,591.84 340.5,591.3 341.02,591.33 341.53,591.4 342.05,591.5 342.57,591.6 343.08,591.67 343.6,591.7 344.13,591.47 344.66,590.89 345.19,590.09 345.71,589.21 346.24,588.41 346.77,587.83 347.3,587.6 347.8,588.24 348.3,589.78 348.8,591.62 349.3,593.16 349.8,593.8 350.32,593.61 350.83,593.15 351.35,592.55 351.87,591.95 352.38,591.49 352.9,591.3 353.42,591.51 353.93,592.05 354.45,592.75 354.97,593.45 355.48,593.99 356,594.2 356.6,593.86 357.2,593.02 357.8,592 358.3,590.68 358.8,588.75 359.3,586.73 359.8,585.14 360.3,584.5 360.8,584.64 361.3,584.96 361.8,585.34 362.3,585.66 362.8,585.8 363.3,585.76 363.8,585.66 364.3,585.52 364.8,585.34 365.3,585.15 365.8,584.96 366.3,584.78 366.8,584.64 367.3,584.54 367.8,584.5 368.36,585.73 368.92,588.65 369.48,592.15 370.04,595.07 370.6,596.3 371.14,596.3 371.68,596.3 372.22,596.3 372.76,596.3 373.3,596.3 373.8,596 374.3,595.28 374.8,594.42 375.3,593.7 375.8,593.4 376.35,593.46 376.9,593.6 377.45,593.74 378,593.8 378.57,592.98 379.13,590.92 379.7,588.25 380.27,585.58 380.83,583.52 381.4,582.7 382,582.7 382.6,582.7 383.2,582.7 383.7,583.08 384.2,584 384.7,585.1 385.2,586.02 385.7,586.4 386.24,585.69 386.78,584.01 387.32,581.99 387.86,580.31 388.4,579.6 388.98,579.85 389.56,580.44 390.14,581.16 390.72,581.75 391.3,582 391.93,581.42 392.57,580.01 393.2,578.3 393.75,575.97 394.3,572.77 394.85,569.92 395.4,568.7 395.94,569.03 396.48,569.83 397.02,570.77 397.56,571.57 398.1,571.9 398.63,570.99 399.16,568.63 399.69,565.41 400.21,561.89 400.74,558.67 401.27,556.31 401.8,555.4 402.32,555.51 402.83,555.8 403.35,556.23 403.87,556.75 404.38,557.32 404.9,557.9 405.48,558.82 406.06,560.08 406.64,561.38 407.22,562.39 407.8,562.8 408.3,562.48 408.8,561.71 409.3,560.79 409.8,560.02 410.3,559.7 411,561.6 411.7,563.5 412.2,563.36 412.7,563.04 413.2,562.66 413.7,562.34 414.2,562.2 414.7,562.91 415.2,564.59 415.7,566.61 416.2,568.29 416.7,569 417.25,568.85 417.8,568.44 418.35,567.87 418.9,567.2 419.46,566.03 420.02,564.2 420.58,562.14 421.14,560.3 421.7,559.1 422.3,558.34 422.9,557.74 423.5,557.5 424,558.33 424.5,559.87 425,560.7 425.6,560.65 426.2,560.55 426.8,560.45 427.4,560.4 427.95,560.61 428.5,561.17 429.05,561.95 429.6,562.85 430.15,563.75 430.7,564.53 431.25,565.09 431.8,565.3 432.3,565.22 432.8,564.97 433.3,564.59 433.8,564.1 434.3,563.5 434.9,561.02 435.5,556.57 436.1,552.3 436.7,550.4 437.33,550.64 437.97,551.3 438.6,552.3 439.2,556.27 439.8,559.7 440.43,558.59 441.07,556.51 441.7,555.4 442.22,556.36 442.73,558.77 443.25,561.9 443.77,565.03 444.28,567.44 444.8,568.4 445.32,567.85 445.83,566.48 446.35,564.7 446.87,562.92 447.38,561.55 447.9,561 448.5,561.16 449.1,561.44 449.7,561.6 450.2,561.44 450.7,561.01 451.2,560.41 451.7,559.74 452.2,559.1 452.73,558.33 453.26,557.35 453.79,556.28 454.31,555.24 454.84,554.35 455.37,553.73 455.9,553.5 456.53,555.91 457.17,560.39 457.8,562.8 458.3,562.42 458.8,561.5 459.3,560.4 459.8,559.48 460.3,559.1 460.83,559.48 461.36,560.45 461.89,561.78 462.41,563.22 462.94,564.55 463.47,565.52 464,565.9 464.52,565.26 465.03,563.67 465.55,561.6 466.07,559.53 466.58,557.94 467.1,557.3 467.6,557.47 468.1,557.91 468.6,558.51 469.1,559.14 469.6,559.7 470.2,560.35 470.8,561.05 471.4,561.65 472,562 472.52,562.14 473.03,562.26 473.55,562.36 474.07,562.44 474.58,562.48 475.1,562.5 475.6,562.5 476.1,562.5 476.6,562.5 477.1,562.5 477.6,562.5 478.23,563.23 478.87,564.57 479.5,565.3 480,564.1 480.5,561.17 481,557.54 481.5,554.24 482,552.3 482.6,551.26 483.2,550.4 483.8,549.81 484.4,549.6 484.92,550.53 485.43,552.87 485.95,555.9 486.47,558.93 486.98,561.27 487.5,562.2 488,562.01 488.5,561.55 489,560.96 489.5,560.39 490,560 490.5,559.79 491,559.65 491.5,559.52 492,559.35 492.5,559.1 493.06,558.11 493.62,556.24 494.18,554.14 494.74,552.41 495.3,551.7 495.82,552.15 496.35,553.26 496.88,554.67 497.4,556 497.9,557.36 498.4,558.99 498.9,560.55 499.4,561.73 499.9,562.2 500.53,561.6 501.17,560.44 501.8,559.7 502.33,559.57 502.86,559.48 503.39,559.43 503.91,559.38 504.44,559.32 504.97,559.24 505.5,559.1 506,558.42 506.5,557.01 507,555.39 507.5,554.06 508,553.5 508.6,554.86 509.2,557.89 509.8,561 510.33,563.96 510.87,567 511.4,568.4 511.96,567.48 512.52,565.24 513.08,562.48 513.64,559.97 514.2,558.5 514.7,557.97 515.2,557.56 515.7,557.24 516.2,556.96 516.7,556.69 517.2,556.38 517.7,556 518.2,555.44 518.7,554.74 519.2,554.04 519.7,553.51 520.2,553.3 520.75,553.43 521.3,553.78 521.85,554.27 522.4,554.8 523.03,555.7 523.67,556.88 524.3,557.9 524.82,558.6 525.35,559.28 525.88,559.79 526.4,560 526.9,559.77 527.4,559.25 527.9,558.73 528.4,558.5 528.94,558.57 529.48,558.76 530.02,559.03 530.56,559.35 531.1,559.7 531.6,560.17 532.1,560.85 532.6,561.57 533.1,562.17 533.6,562.5 534.2,562.61 534.8,562.67 535.4,562.8 536.05,565.55 536.7,568.2 537.23,568.2 537.77,568.2 538.3,568.2 538.84,566.92 539.38,563.82 539.92,560.03 540.46,556.65 541,554.8 541.63,554.19 542.27,553.79 542.9,553.3 543.4,552.59 543.9,551.63 544.4,550.66 544.9,549.9 545.4,549.6 545.93,550.77 546.47,553.35 547,556 547.5,558.58 548,561.22 548.5,562.5 549.1,562.61 549.7,562.66 550.3,562.7 550.9,562.8 551.4,563.72 551.9,565.74 552.4,568.11 552.9,570.08 553.4,570.9 553.9,570.03 554.4,567.94 554.9,565.46 555.4,563.37 555.9,562.5 556.5,564.3 557.1,567.2 557.6,569.28 558.1,571.56 558.6,573.66 559.1,575.2 559.6,575.8 560.1,575.49 560.6,574.74 561.1,573.86 561.6,573.11 562.1,572.8 562.6,573.25 563.1,574.31 563.6,575.59 564.1,576.65 564.6,577.1 565.13,577.1 565.66,577.1 566.19,577.1 566.71,577.1 567.24,577.1 567.77,577.1 568.3,577.1 568.82,577.6 569.33,578.86 569.85,580.5 570.37,582.14 570.88,583.4 571.4,583.9 572,583.59 572.6,583.01 573.2,582.7 573.7,582.95 574.2,583.54 574.7,584.26 575.2,584.85 575.7,585.1 576.24,584.53 576.78,583.16 577.32,581.54 577.86,580.17 578.4,579.6 578.98,580.27 579.56,581.85 580.14,583.75 580.72,585.33 581.3,586 581.93,586 582.57,586 583.2,586 583.8,585.73 584.4,585.15 585,584.57 585.6,584.3 586.12,584.46 586.63,584.84 587.15,585.35 587.67,585.86 588.18,586.24 588.7,586.4 589.2,586.34 589.7,586.19 590.2,586.01 590.7,585.86 591.2,585.8 591.72,586.12 592.23,586.91 592.75,587.95 593.27,588.99 593.78,589.78 594.3,590.1 594.8,589.84 595.3,589.22 595.8,588.48 596.3,587.86 596.8,587.6 597.32,587.94 597.83,588.79 598.35,589.9 598.87,591.01 599.38,591.86 599.9,592.2 600.42,592.07 600.93,591.76 601.45,591.35 601.97,590.94 602.48,590.63 603,590.5 603.53,590.53 604.06,590.59 604.59,590.69 605.11,590.79 605.64,590.88 606.17,590.96 606.7,591 607.21,591.01 607.72,591.03 608.22,591.04 608.73,591.05 609.24,591.06 609.75,591.07 610.25,591.08 610.76,591.08 611.27,591.09 611.78,591.09 612.28,591.1 612.79,591.1 613.3,591.1 613.85,590.62 614.4,589.43 614.95,587.93 615.5,586.5 616.05,584.91 616.6,583.07 617.15,581.54 617.7,580.9 618.26,581.53 618.82,583.05 619.38,584.85 619.94,586.37 620.5,587 621.07,586.14 621.63,584.16 622.2,582 622.73,579.47 623.27,576.7 623.8,575.4 624.37,575.92 624.93,577.18 625.5,578.7 626.05,580.98 626.6,584.12 627.15,586.9 627.7,588.1 628.25,587.81 628.8,587.09 629.35,586.12 629.9,585.1 630.45,584.23 631,583.7 631.55,583.41 632.1,583.15 632.65,582.93 633.2,582.75 633.75,582.64 634.3,582.6 634.87,582.79 635.43,583.29 636,583.98 636.57,584.72 637.13,585.4 637.7,585.9 638.25,586.27 638.8,586.63 639.35,586.89 639.9,587 640.45,586.19 641,584.25 641.55,581.88 642.1,579.8 642.65,577.85 643.2,575.75 643.75,574.08 644.3,573.4 644.85,573.57 645.4,574.02 645.95,574.66 646.5,575.4 647.07,576.89 647.63,578.83 648.2,579.8 648.74,579.25 649.28,577.93 649.82,576.37 650.36,575.05 650.9,574.5 651.47,575.37 652.03,577.32 652.6,579.3 653.13,581.27 653.67,583.28 654.2,584.2 654.78,583.98 655.35,583.44 655.92,582.72 656.5,582 657.05,581.12 657.6,580.03 658.15,579.09 658.7,578.7 659.25,579.14 659.8,580.1 660.35,581.06 660.9,581.5 661.46,581.21 662.02,580.51 662.58,579.69 663.14,578.99 663.7,578.7 664.23,579.29 664.77,580.61 665.3,582 665.85,583.58 666.4,585.42 666.95,586.96 667.5,587.6 668.05,586.47 668.6,583.94 669.15,581.29 669.7,579.8 670.25,579.44 670.8,579.24 671.35,579.04 671.9,578.7 672.48,577.39 673.05,575.16 673.62,573.04 674.2,572.1 674.74,572.26 675.28,572.67 675.82,573.21 676.36,573.79 676.9,574.3 677.46,574.71 678.02,575.07 678.58,575.45 679.14,575.91 679.7,576.5 680.27,577.48 680.83,578.87 681.4,580.4 681.95,582.35 682.5,584.74 683.05,586.75 683.6,587.6 684.14,587.08 684.68,585.84 685.22,584.36 685.76,583.12 686.3,582.6 686.8,582.89 687.3,583.59 687.8,584.41 688.3,585.11 688.8,585.4 689.3,585.01 689.8,584.08 690.3,582.96 690.8,582 691.35,581.1 691.9,580.12 692.45,579.18 693,578.37 693.55,577.81 694.1,577.6 694.65,578.21 695.2,579.55 695.75,580.89 696.3,581.5 696.83,580.72 697.37,579.28 697.9,578.5 698.47,578.55 699.03,578.69 699.6,578.9 700.15,579.64 700.7,581.1 701.25,582.78 701.8,584.2 702.38,585.5 702.95,586.84 703.52,587.88 704.1,588.3 704.6,587.85 705.1,586.72 705.6,585.24 706.1,583.72 706.6,582.5 707.12,581.41 707.64,580.26 708.16,579.23 708.68,578.49 709.2,578.2 709.7,578.48 710.2,579.19 710.7,580.1 711.2,581.01 711.7,581.72 712.2,582 712.74,581.72 713.28,581.05 713.82,580.25 714.36,579.58 714.9,579.3 715.47,579.37 716.03,579.55 716.6,579.8 717.15,580.64 717.7,582.14 718.25,583.56 718.8,584.2 719.37,584.07 719.93,583.83 720.5,583.7 721.05,584.45 721.6,586.1 722.15,587.75 722.7,588.5 723.25,588.03 723.8,586.84 724.35,585.27 724.9,583.63 725.45,582.27 726,581.5 726.56,581.15 727.12,580.85 727.68,580.61 728.24,580.46 728.8,580.4 729.35,580.62 729.9,581.1 730.45,581.58 731,581.8 731.53,581.44 732.07,580.76 732.6,580.4 733.15,581.67 733.7,584.45 734.25,587.23 734.8,588.5 735.37,588.24 735.93,587.57 736.5,586.63 737.07,585.57 737.63,584.55 738.2,583.7 738.75,582.95 739.3,582.13 739.85,581.33 740.4,580.65 740.95,580.18 741.5,580 742.05,580.19 742.6,580.66 743.15,581.31 743.7,582 744.26,583.02 744.82,584.47 745.38,585.96 745.94,587.13 746.5,587.6 747.05,587.24 747.6,586.34 748.15,585.23 748.7,584.2 749.23,583.2 749.77,582.17 750.3,581.5 750.86,581.14 751.42,580.84 751.98,580.61 752.54,580.45 753.1,580.4 753.65,581.2 754.2,582 754.76,581.68 755.32,580.91 755.88,579.99 756.44,579.22 757,578.9 757.54,578.93 758.08,579.03 758.62,579.18 759.16,579.37 759.7,579.6 760.25,580.06 760.8,580.82 761.35,581.73 761.9,582.6 762.48,583.61 763.05,584.75 763.62,585.71 764.2,586.2 764.75,586.32 765.3,586.42 765.85,586.48 766.4,586.5 766.95,585.89 767.5,584.55 768.05,583.21 768.6,582.6 769.14,582.6 769.68,582.6 770.22,582.6 770.76,582.6 771.3,582.6 771.87,582.39 772.43,581.93 773,581.5 773.55,581.15 774.1,580.79 774.65,580.51 775.2,580.4 775.77,580.63 776.33,581.21 776.9,582 777.45,583.91 778,585.4 778.8,582.3 779.5,583.15 780.2,584 780.77,584 781.33,584 781.9,584 782.43,584.67 782.97,586.13 783.5,587.6" class="tr red"/>
<line x1="151.5" y1="295.5" x2="163.5" y2="295.5" class="bm"/>
<rect x="149.5" y="293.5" width="4" height="4" class="bm"/><rect x="161.5" y="293.5" width="4" height="4" class="bm"/>
<line x1="152.5" y1="590.5" x2="169.5" y2="590.5" class="bm"/>
<rect x="147.5" y="588.5" width="5" height="5" class="bm"/><rect x="169.5" y="588.5" width="5" height="5" class="bm"/>
<line x1="162" y1="188.1" x2="175.2" y2="185.5" class="gl"/>
<line x1="173.7" y1="233.9" x2="180.1" y2="232.3" class="gl"/>
<line x1="221.9" y1="228.2" x2="225" y2="226.5" class="gl"/>
<line x1="346.1" y1="259.7" x2="348.9" y2="260.4" class="gl"/>
<line x1="374" y1="253.2" x2="385.1" y2="254.1" class="gl"/>
<line x1="402" y1="248.7" x2="408.2" y2="250.5" class="gl"/>
<line x1="427.8" y1="248.7" x2="439.9" y2="246.8" class="gl"/>
<line x1="508.4" y1="252.9" x2="514" y2="251" class="gl"/>
<line x1="522" y1="258.5" x2="541.7" y2="256.8" class="gl"/>
<line x1="556.2" y1="242.8" x2="564.3" y2="244" class="gl"/>
<line x1="610.4" y1="214.4" x2="640.8" y2="216.4" class="gl"/>
<line x1="620.2" y1="229.3" x2="636.7" y2="231.3" class="gl"/>
<line x1="616.2" y1="254" x2="625.3" y2="254.8" class="gl"/>
<text x="52.4" y="262.8" class="pl">0.39</text>
<text x="94.3" y="265.4" class="pl">1.23</text>
<text x="111.1" y="285.1" class="pl">1.57</text>
<text x="165" y="184.8" class="pl">2.40</text>
<text x="168" y="230.3" class="pl">2.64</text>
<text x="196.2" y="186" class="pl">3.31</text>
<text x="213.9" y="224.2" class="pl">3.62</text>
<text x="239.6" y="172.8" class="pl">4.20</text>
<text x="270.9" y="237.7" class="pl">4.83</text>
<text x="294.8" y="262" class="pl">5.30</text>
<text x="335" y="257.6" class="pl">6.18</text>
<text x="364.2" y="251.4" class="pl">6.93</text>
<text x="392.2" y="247.6" class="pl">7.40</text>
<text x="410.2" y="229.8" class="pl">7.64</text>
<text x="428.8" y="246.4" class="pl">7.79</text>
<text x="469.5" y="232.1" class="pl">8.91</text>
<text x="486.3" y="154.7" class="pl">9.19</text>
<text x="502.8" y="249" class="pl">9.42</text>
<text x="531.1" y="255.4" class="pl">9.71</text>
<text x="543.2" y="240.3" class="pl">10.57</text>
<text x="562.9" y="203.9" class="pl">10.81</text>
<text x="603.1" y="251.4" class="pl">11.78</text>
<text x="606.8" y="228.9" class="pl">12.04</text>
<text x="597" y="213.6" class="pl">12.12</text>
<text x="632.9" y="201.4" class="pl">12.22</text>
<text x="659.9" y="234.6" class="pl">12.78</text>
<text x="683.8" y="192.3" class="pl">13.25</text>
<text x="718.5" y="210.1" class="pl">13.95</text>
<text x="748.5" y="183.5" class="pl">14.56</text>
<text x="0" y="0" transform="translate(14.5,174) rotate(-90)" text-anchor="middle" style="letter-spacing:-0.1px">Relati<tspan dx="1.5">ve Abundance</tspan></text>
<text class="info" x="131.5" y="14">RT: 2.31</text>
<text class="info" x="131.5" y="27">AA: 15641</text>
<text class="info" x="131.5" y="40">SN: 20</text>
<text class="info" x="128.5" y="315">RT: 2.31</text>
<text class="info" x="128.5" y="328.5">AA: 642463</text>
<text class="info" x="128.5" y="342">SN: 19</text>
<g class="info">
<text x="783.5" y="12.8">NL: 2.11E3</text>
<text x="783.5" y="29">m/z= 67.50-68.50 F: + p</text>
<text x="783.5" y="42">ESI SRM ms2 85.300</text>
<text x="783.5" y="55">[42.900-43.900,</text>
<text x="783.5" y="68.2">67.800-68.800]  MS</text>
<text x="783.5" y="81.5">Genesis 250ppt</text>
</g>
<g class="info">
<text class="red" x="783.5" y="314.8">NL: 9.54E4</text>
<text class="red" x="783.5" y="330.4">m/z= 71.00-72.00 F: + p</text>
<text class="red" x="783.5" y="343.4">ESI SRM ms2 89.151</text>
<text class="red" x="783.5" y="356.4">[45.000-46.000,</text>
<text class="red" x="783.5" y="369.5">71.000-72.000]  MS</text>
<text class="red" x="783.5" y="382.5">Genesis 250ppt</text>
</g>
<text class="cn" x="223" y="130" style="letter-spacing:1.4px">双氰胺</text>
<text class="cn" x="214" y="413" style="letter-spacing:1.4px">双氰胺</text>
<text class="lat" x="288.5" y="413" style="font-size:20px">-</text>
<text class="lat" transform="matrix(0.84,0,0,1,295.6,401.6)" style="font-size:13px">15</text>
<text class="lat" transform="matrix(0.82,0,0,1,307.9,412.6)" style="font-size:22.6px">N</text>
<text class="lat" transform="matrix(0.84,0,0,1,321.2,416.5)" style="font-size:13.4px">4</text>
<text class="cn" x="331" y="413" style="letter-spacing:1.2px">内标</text>
<text x="413" y="640" text-anchor="middle" class="info">Time (min)</text>
</svg>
</body></html>
